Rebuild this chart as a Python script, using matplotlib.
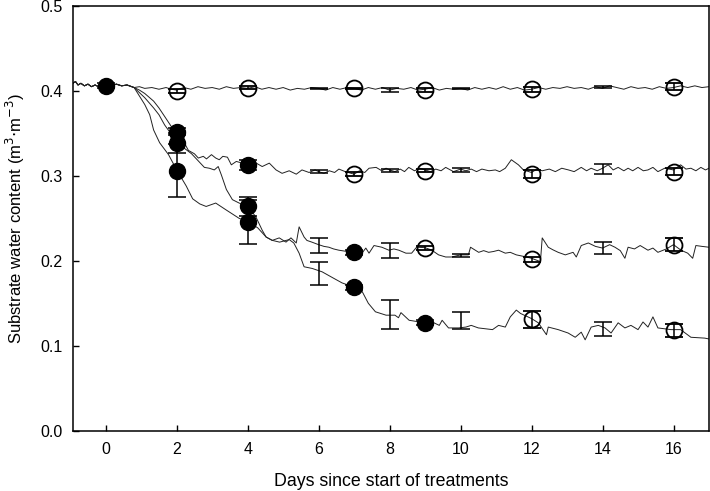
import numpy as np
from matplotlib import pyplot as plt

plt.rcParams['font.family'] = ['Liberation Sans', 'DejaVu Sans']

# continuous sensor traces (day, volumetric water content)
start_d = [-0.93, -0.85, -0.78, -0.7, -0.6, -0.5, -0.4, -0.3, -0.2, -0.1, 0.0, 0.15, 0.3, 0.45, 0.6, 0.8]
start_v = [0.409, 0.411, 0.407, 0.409, 0.406, 0.408, 0.405, 0.407, 0.405, 0.406, 0.407, 0.406, 0.408, 0.406, 0.407, 0.404]

a_days = [0.95, 1.1, 1.3, 1.5, 1.7, 1.85, 2.0, 2.2, 2.4, 2.6, 2.8, 3.0, 3.2, 3.4, 3.6, 3.8, 4.0, 4.2, 4.4, 4.6,
          4.8, 5.0, 5.2, 5.4, 5.6, 5.8, 6.0, 6.2, 6.4, 6.6, 6.8, 7.0, 7.2, 7.4, 7.6, 7.8, 8.0, 8.2, 8.4, 8.6,
          8.8, 9.0, 9.2, 9.4, 9.6, 9.8, 10.0, 10.2, 10.4, 10.6, 10.8, 11.0, 11.2, 11.4, 11.6, 11.8, 12.0, 12.2,
          12.4, 12.6, 12.8, 13.0, 13.2, 13.4, 13.6, 13.8, 14.0, 14.2, 14.4, 14.6, 14.8, 15.0, 15.2, 15.4, 15.6,
          15.8, 16.0, 16.2, 16.4, 16.6, 16.8, 17.0]
a_vals = [0.405, 0.403, 0.404, 0.402, 0.404, 0.402, 0.401, 0.404, 0.402, 0.405, 0.403, 0.404, 0.402, 0.405, 0.403, 0.404,
          0.403, 0.405, 0.402, 0.404, 0.402, 0.404, 0.401, 0.403, 0.402, 0.404, 0.403, 0.401, 0.404, 0.402, 0.404, 0.403,
          0.401, 0.404, 0.402, 0.404, 0.401, 0.403, 0.402, 0.404, 0.401, 0.402, 0.404, 0.401, 0.403, 0.402, 0.403,
          0.401, 0.404, 0.402, 0.404, 0.402, 0.405, 0.402, 0.404, 0.401, 0.402, 0.404, 0.402, 0.404, 0.403, 0.405,
          0.403, 0.404, 0.402, 0.405, 0.403, 0.406, 0.404, 0.402, 0.405, 0.403, 0.404, 0.402, 0.405, 0.403, 0.404,
          0.406, 0.404, 0.406, 0.404, 0.405]

b_days = [0.95, 1.1, 1.35, 1.5, 1.66, 1.85, 2.0, 2.2, 2.33, 2.5, 2.61, 2.75, 2.84, 2.98, 3.1, 3.2, 3.3, 3.43, 3.54,
          3.68, 3.85, 4.0, 4.2, 4.41, 4.61, 4.8, 4.97, 5.17, 5.37, 5.53, 5.73, 5.9, 6.0, 6.15, 6.3, 6.45, 6.57, 6.75,
          7.0, 7.15, 7.3, 7.42, 7.62, 7.78, 7.9, 8.0, 8.15, 8.3, 8.42, 8.54, 8.7, 8.85, 9.0, 9.15, 9.3, 9.45, 9.58,
          9.8, 10.0, 10.15, 10.3, 10.45, 10.6, 10.8, 10.98, 11.1, 11.26, 11.43, 11.63, 11.77, 12.0, 12.15, 12.3,
          12.5, 12.67, 12.85, 13.04, 13.2, 13.4, 13.55, 13.68, 13.85, 14.0, 14.16, 14.3, 14.44, 14.6, 14.72, 14.85,
          15.0, 15.15, 15.28, 15.42, 15.56, 15.75, 16.0, 16.2, 16.35, 16.49, 16.63, 16.77, 16.9, 17.0]
b_vals = [0.401, 0.397, 0.388, 0.380, 0.370, 0.358, 0.352, 0.340, 0.330, 0.326, 0.321, 0.323, 0.320, 0.325, 0.321, 0.319,
          0.323, 0.322, 0.313, 0.317, 0.315, 0.313, 0.316, 0.311, 0.315, 0.307, 0.303, 0.306, 0.302, 0.307, 0.304,
          0.307, 0.305, 0.303, 0.306, 0.304, 0.308, 0.305, 0.302, 0.306, 0.304, 0.309, 0.310, 0.306, 0.309, 0.307,
          0.305, 0.308, 0.305, 0.310, 0.306, 0.309, 0.307, 0.305, 0.308, 0.306, 0.310, 0.305, 0.308, 0.306, 0.308,
          0.305, 0.308, 0.306, 0.307, 0.305, 0.309, 0.319, 0.313, 0.307, 0.304, 0.308, 0.306, 0.308, 0.305, 0.309,
          0.307, 0.305, 0.310, 0.306, 0.309, 0.306, 0.309, 0.313, 0.307, 0.310, 0.306, 0.309, 0.306, 0.310, 0.306,
          0.307, 0.310, 0.305, 0.309, 0.307, 0.313, 0.308, 0.309, 0.306, 0.310, 0.307, 0.309]

c_days = [0.95, 1.1, 1.35, 1.5, 1.66, 1.85, 2.0, 2.2, 2.42, 2.6, 2.78, 2.92, 3.06, 3.17, 3.26, 3.4, 3.57, 3.76, 4.0,
          4.12, 4.24, 4.41, 4.52, 4.69, 4.89, 5.08, 5.22, 5.37, 5.45, 5.59, 5.67, 5.81, 6.0, 6.15, 6.29, 6.42, 6.57,
          6.8, 7.0, 7.22, 7.33, 7.42, 7.56, 7.78, 7.98, 8.12, 8.26, 8.46, 8.62, 8.76, 9.0, 9.19, 9.38, 9.58, 9.75,
          10.0, 10.22, 10.28, 10.51, 10.65, 10.79, 10.93, 11.07, 11.26, 11.4, 11.57, 11.8, 12.0, 12.25, 12.3, 12.47,
          12.6, 12.75, 12.95, 13.17, 13.26, 13.4, 13.6, 13.8, 14.0, 14.2, 14.35, 14.5, 14.63, 14.72, 14.9, 15.06,
          15.28, 15.42, 15.56, 15.8, 16.0, 16.21, 16.4, 16.54, 16.63, 16.8, 17.0]
c_vals = [0.398, 0.392, 0.380, 0.372, 0.360, 0.349, 0.339, 0.333, 0.326, 0.318, 0.310, 0.309, 0.307, 0.311, 0.301,
          0.284, 0.272, 0.268, 0.264, 0.258, 0.251, 0.236, 0.228, 0.224, 0.227, 0.222, 0.227, 0.221, 0.240, 0.228,
          0.224, 0.222, 0.219, 0.217, 0.216, 0.214, 0.2125, 0.211, 0.210, 0.209, 0.215, 0.209, 0.218, 0.216, 0.2125,
          0.214, 0.2125, 0.209, 0.209, 0.216, 0.2155, 0.2125, 0.207, 0.2045, 0.2045, 0.207, 0.207, 0.216, 0.210,
          0.212, 0.210, 0.211, 0.2125, 0.209, 0.210, 0.207, 0.205, 0.203, 0.199, 0.227, 0.216, 0.213, 0.210, 0.207,
          0.210, 0.2045, 0.218, 0.221, 0.217, 0.215, 0.219, 0.216, 0.212, 0.203, 0.216, 0.214, 0.218, 0.2125, 0.215,
          0.210, 0.214, 0.219, 0.2125, 0.209, 0.203, 0.218, 0.217, 0.216]

d_days = [0.95, 1.1, 1.24, 1.35, 1.52, 1.77, 2.0, 2.27, 2.45, 2.65, 2.83, 3.1, 3.39, 3.76, 4.0, 4.28, 4.52, 4.7, 4.9,
          5.17, 5.3, 5.45, 5.59, 5.82, 6.1, 6.4, 6.66, 7.0, 7.2, 7.4, 7.6, 7.9, 8.15, 8.25, 8.32, 8.55, 9.0, 9.2, 9.4,
          9.48, 9.66, 9.95, 10.15, 10.3, 10.5, 10.9, 11.07, 11.26, 11.4, 11.57, 11.69, 12.0, 12.19, 12.42, 12.47,
          12.75, 13.03, 13.23, 13.4, 13.51, 13.68, 13.88, 14.07, 14.24, 14.44, 14.63, 14.8, 15.0, 15.14, 15.28,
          15.42, 15.56, 15.93, 16.2, 16.49, 16.88, 17.0]
d_vals = [0.394, 0.384, 0.372, 0.354, 0.339, 0.325, 0.307, 0.288, 0.273, 0.267, 0.264, 0.268, 0.260, 0.250, 0.246,
          0.239, 0.228, 0.224, 0.222, 0.225, 0.221, 0.209, 0.193, 0.191, 0.187, 0.180, 0.174, 0.169, 0.166, 0.150,
          0.140, 0.136, 0.136, 0.133, 0.139, 0.130, 0.127, 0.128, 0.124, 0.130, 0.121, 0.121, 0.122, 0.124, 0.121,
          0.119, 0.124, 0.122, 0.134, 0.142, 0.138, 0.132, 0.127, 0.113, 0.122, 0.119, 0.115, 0.110, 0.116, 0.107,
          0.122, 0.124, 0.121, 0.115, 0.127, 0.121, 0.124, 0.119, 0.128, 0.122, 0.134, 0.121, 0.119, 0.119, 0.110,
          0.109, 0.108]

# manual measurements (markers): day, mean, error
filled_days = [0, 2, 2, 2, 4, 4, 4, 7, 7, 9]
filled_vals = [0.406, 0.352, 0.339, 0.306, 0.313, 0.264, 0.246, 0.210, 0.169, 0.127]
filled_err = [0.003, 0.004, 0.012, 0.031, 0.006, 0.011, 0.026, 0.003, 0.003, 0.003]

open_days = [2, 4, 7, 9, 12, 16, 7, 9, 12, 16, 9, 12, 16, 12, 16]
open_vals = [0.400, 0.404, 0.403, 0.401, 0.402, 0.405, 0.302, 0.306, 0.302, 0.305, 0.215, 0.202, 0.219, 0.131, 0.118]
open_err = [0.002, 0.002, 0.001, 0.002, 0.003, 0.004, 0.002, 0.002, 0.005, 0.004, 0.002, 0.003, 0.008, 0.010, 0.008]

# error bars of sensor means without markers
bar_days = [6, 8, 10, 14, 6, 8, 10, 14, 6, 8, 10, 14, 6, 8, 10, 14]
bar_vals = [0.403, 0.401, 0.403, 0.405, 0.305, 0.306, 0.307, 0.308, 0.218, 0.212, 0.206, 0.215, 0.185, 0.137, 0.130, 0.120]
bar_err = [0.001, 0.002, 0.001, 0.001, 0.002, 0.002, 0.002, 0.006, 0.009, 0.009, 0.002, 0.007, 0.014, 0.017, 0.010, 0.008]

fig = plt.figure(figsize=(7.1, 4.91), dpi=100)
ax = fig.add_axes([0.1024, 0.1228, 0.8962, 0.865])

for dd, vv in [(a_days, a_vals), (b_days, b_vals), (c_days, c_vals), (d_days, d_vals)]:
    ax.plot(start_d + dd, start_v + vv, color='#222222', lw=0.7, zorder=2)

ax.errorbar(bar_days, bar_vals, yerr=bar_err, fmt='none', ecolor='black', elinewidth=1.1,
            capsize=6.5, capthick=1.1, zorder=3)
ax.errorbar(open_days, open_vals, yerr=open_err, fmt='o', ms=11.5, mfc='none', mec='black', mew=1.3,
            ecolor='black', elinewidth=1.1, capsize=6.5, capthick=1.1, zorder=4)
ax.errorbar(filled_days, filled_vals, yerr=filled_err, fmt='o', ms=11.5, mfc='black', mec='black',
            ecolor='black', elinewidth=1.1, capsize=6.5, capthick=1.1, zorder=4)

ax.set_xlim(-0.93, 17)
ax.set_ylim(0, 0.5)
ax.set_xticks(np.arange(0, 17, 2))
ax.set_yticks(np.arange(0, 0.51, 0.1))
ax.set_yticklabels(['0.0', '0.1', '0.2', '0.3', '0.4', '0.5'])
ax.tick_params(direction='in', length=4.5, width=1, labelsize=11.5)
ax.tick_params(axis='x', pad=8)
ax.tick_params(axis='y', pad=7)
for s in ax.spines.values():
    s.set_linewidth(1.1)
ax.set_xlabel('Days since start of treatments', fontsize=12.8, labelpad=11.5)
ax.set_ylabel('Substrate water content (m$^{3}$$\\cdot$m$^{-3}$)', fontsize=12, labelpad=10)

fig.savefig('out.png', dpi=100)
